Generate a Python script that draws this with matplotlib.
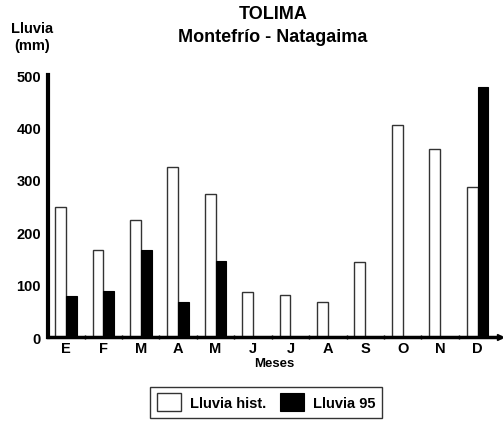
import numpy as np
import matplotlib.pyplot as plt

plt.rcParams["font.family"] = ["Liberation Sans", "DejaVu Sans"]
plt.rcParams["font.weight"] = "bold"

meses = ["E", "F", "M", "A", "M", "J", "J", "A", "S", "O", "N", "D"]
lluvia_hist = [248, 167, 224, 324, 273, 86, 80, 66, 143, 404, 358, 286]
lluvia_95 = [78, 88, 166, 66, 145, 0, 0, 0, 0, 0, 0, 478]


def main():
    fig = plt.figure(figsize=(5.03, 4.27), dpi=100)
    ax = fig.add_axes([0.0954, 0.2084, 0.8986, 0.6136])

    x = np.arange(len(meses))
    w = 0.29
    ax.bar(x - w / 2, lluvia_hist, width=w, color="white", edgecolor="#333333",
           linewidth=1.0, label="Lluvia hist.")
    ax.bar(x + w / 2, lluvia_95, width=w, color="black", edgecolor="black",
           linewidth=0.8, label="Lluvia 95")

    ax.set_xlim(-0.48, 11.6)
    ax.set_ylim(0, 500)
    ax.set_yticks([0, 100, 200, 300, 400, 500])
    ax.set_xticks(x)
    ax.set_xticklabels(meses, fontsize=10.5, fontweight="bold")
    ax.set_xticks(x[:-1] + 0.5, minor=True)
    ax.tick_params(axis="x", which="major", length=0, pad=3)
    ax.tick_params(axis="x", which="minor", length=3, width=1, direction="inout")
    ax.tick_params(axis="y", length=0, labelsize=10.5, pad=5)
    for t in ax.get_yticklabels():
        t.set_fontweight("bold")

    for s in ["top", "right"]:
        ax.spines[s].set_visible(False)
    ax.spines["left"].set_linewidth(3)
    ax.spines["bottom"].set_linewidth(2.5)
    ax.plot(1, 0, ">k", markersize=5, transform=ax.get_yaxis_transform(), clip_on=False)

    ax.set_xlabel("Meses", fontsize=9.5, fontweight="bold", labelpad=1.5)

    fig.text(0.543, 0.967, "TOLIMA", ha="center", va="center", fontsize=13, fontweight="bold")
    fig.text(0.543, 0.912, "Montefrío - Natagaima", ha="center", va="center",
             fontsize=13, fontweight="bold")
    fig.text(0.064, 0.912, "Lluvia\n(mm)", ha="center", va="center", fontsize=10.5,
             fontweight="bold", linespacing=1.2)

    leg = fig.legend(loc="center", bbox_to_anchor=(0.529, 0.056), ncol=2, fontsize=10.5,
                     frameon=True, fancybox=False, edgecolor="black",
                     handlelength=1.7, handleheight=1.5, columnspacing=0.9,
                     handletextpad=0.6, borderpad=0.45)
    leg.get_frame().set_linewidth(1.0)
    for t in leg.get_texts():
        t.set_fontweight("bold")

    fig.savefig("out.png", dpi=100)
    plt.close(fig)


if __name__ == "__main__":
    main()
